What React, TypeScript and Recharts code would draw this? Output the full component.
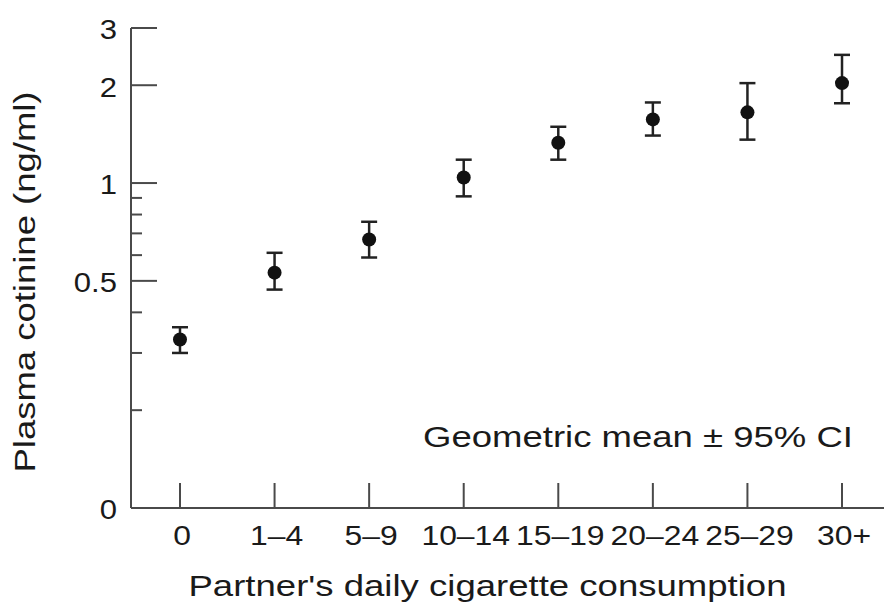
import React from 'react';
import { ComposedChart, Line, XAxis, YAxis, ErrorBar, Customized } from 'recharts';

const categories = ['0', '1–4', '5–9', '10–14', '15–19', '20–24', '25–29', '30+'];
const means = [0.33, 0.53, 0.67, 1.04, 1.33, 1.57, 1.65, 2.03];
const lows = [0.30, 0.47, 0.59, 0.91, 1.18, 1.40, 1.36, 1.76];
const highs = [0.36, 0.61, 0.76, 1.18, 1.49, 1.77, 2.03, 2.48];

const yTicks = [0.1, 0.2, 0.3, 0.4, 0.5, 0.6, 0.7, 0.8, 0.9, 1, 2, 3];
const yTickLabels = ['0', '', '', '', '0.5', '', '', '', '', '1', '2', '3'];
const xTicks = [0, 1, 2, 3, 4, 5, 6, 7];

const data = categories.map((c, i) => ({
  idx: i,
  cat: c,
  mean: means[i],
  err: [means[i] - lows[i], highs[i] - means[i]],
}));

const FONT = '"Liberation Sans", Arial, Helvetica, sans-serif';
const INK = '#1a1a1a';
const AXIS = '#4a4a4a';

const YTick = (props: any) => {
  const { x, y, payload } = props;
  const v = payload.value;
  const i = yTicks.indexOf(v);
  const label = i >= 0 ? yTickLabels[i] : '';
  const major = label !== '';
  return (
    <g>
      {v !== 0.1 && (
        <line x1={x} x2={x + (major ? 26 : 11)} y1={y} y2={y} stroke={AXIS} strokeWidth={2} />
      )}
      {label && (
        <text
          transform={`translate(${x - 14} ${y + 2}) scale(1.15 1)`}
          x={0}
          y={0}
          textAnchor="end"
          dominantBaseline="central"
          fontSize={27}
          fill={INK}
          fontFamily={FONT}
        >
          {label}
        </text>
      )}
    </g>
  );
};

const XTick = (props: any) => {
  const { x, y, payload } = props;
  const label = categories[payload.value] ?? '';
  return (
    <g>
      <line x1={x} x2={x} y1={y} y2={y - 25} stroke={AXIS} strokeWidth={2} />
      <text
        transform={`translate(${x + 2} ${y + 37}) scale(1.18 1)`}
        x={0}
        y={0}
        textAnchor="middle"
        fontSize={27}
        fill={INK}
        fontFamily={FONT}
      >
        {label}
      </text>
    </g>
  );
};

const XLabel = (props: any) => {
  const vb = props.viewBox || { x: 131, y: 508, width: 753 };
  return (
    <text
      x={vb.x + vb.width / 2 - 20}
      y={vb.y + 88}
      textAnchor="middle"
      fontSize={29}
      fill={INK}
      fontFamily={FONT}
      textLength={598}
      lengthAdjust="spacingAndGlyphs"
    >
      Partner's daily cigarette consumption
    </text>
  );
};

const YLabel = (props: any) => {
  const vb = props.viewBox || { x: 0, y: 28, width: 131, height: 480 };
  const cx = vb.x + 35;
  const cy = vb.y + vb.height / 2 + 14;
  return (
    <text
      x={cx}
      y={cy}
      transform={`rotate(-90 ${cx} ${cy})`}
      textAnchor="middle"
      fontSize={29}
      fill={INK}
      fontFamily={FONT}
      textLength={381}
      lengthAdjust="spacingAndGlyphs"
    >
      Plasma cotinine (ng/ml)
    </text>
  );
};

const Annotation = () => (
  <text x={423} y={447} fontSize={30} fill={INK} fontFamily={FONT} textLength={430} lengthAdjust="spacingAndGlyphs">
    Geometric mean ± 95% CI
  </text>
);

export default function App() {
  return (
    <div style={{ position: 'absolute', left: 0, top: 0, width: 884, height: 610, background: '#fff', overflow: 'hidden' }}>
      <ComposedChart width={884} height={610} data={data} margin={{ top: 28, right: 0, bottom: 0, left: 0 }}>
        <XAxis
          dataKey="idx"
          type="number"
          domain={[-0.518, 7.444]}
          allowDataOverflow
          ticks={xTicks}
          interval={0}
          height={102}
          tickSize={0}
          tickMargin={0}
          tickLine={false}
          axisLine={{ stroke: AXIS, strokeWidth: 2 }}
          tick={<XTick />}
          label={<XLabel />}
        />
        <YAxis
          type="number"
          scale="log"
          domain={[0.1, 3]}
          allowDataOverflow
          ticks={yTicks}
          interval={0}
          width={131}
          tickSize={0}
          tickMargin={0}
          tickLine={false}
          axisLine={{ stroke: AXIS, strokeWidth: 2 }}
          tick={<YTick />}
          label={<YLabel />}
        />
        <Line
          dataKey="mean"
          stroke="none"
          isAnimationActive={false}
          dot={{ r: 7, fill: '#111', stroke: 'none' }}
          activeDot={false}
        >
          <ErrorBar dataKey="err" width={8} stroke="#222" strokeWidth={2.5} direction="y" isAnimationActive={false} />
        </Line>
        <Customized component={Annotation} />
      </ComposedChart>
    </div>
  );
}
